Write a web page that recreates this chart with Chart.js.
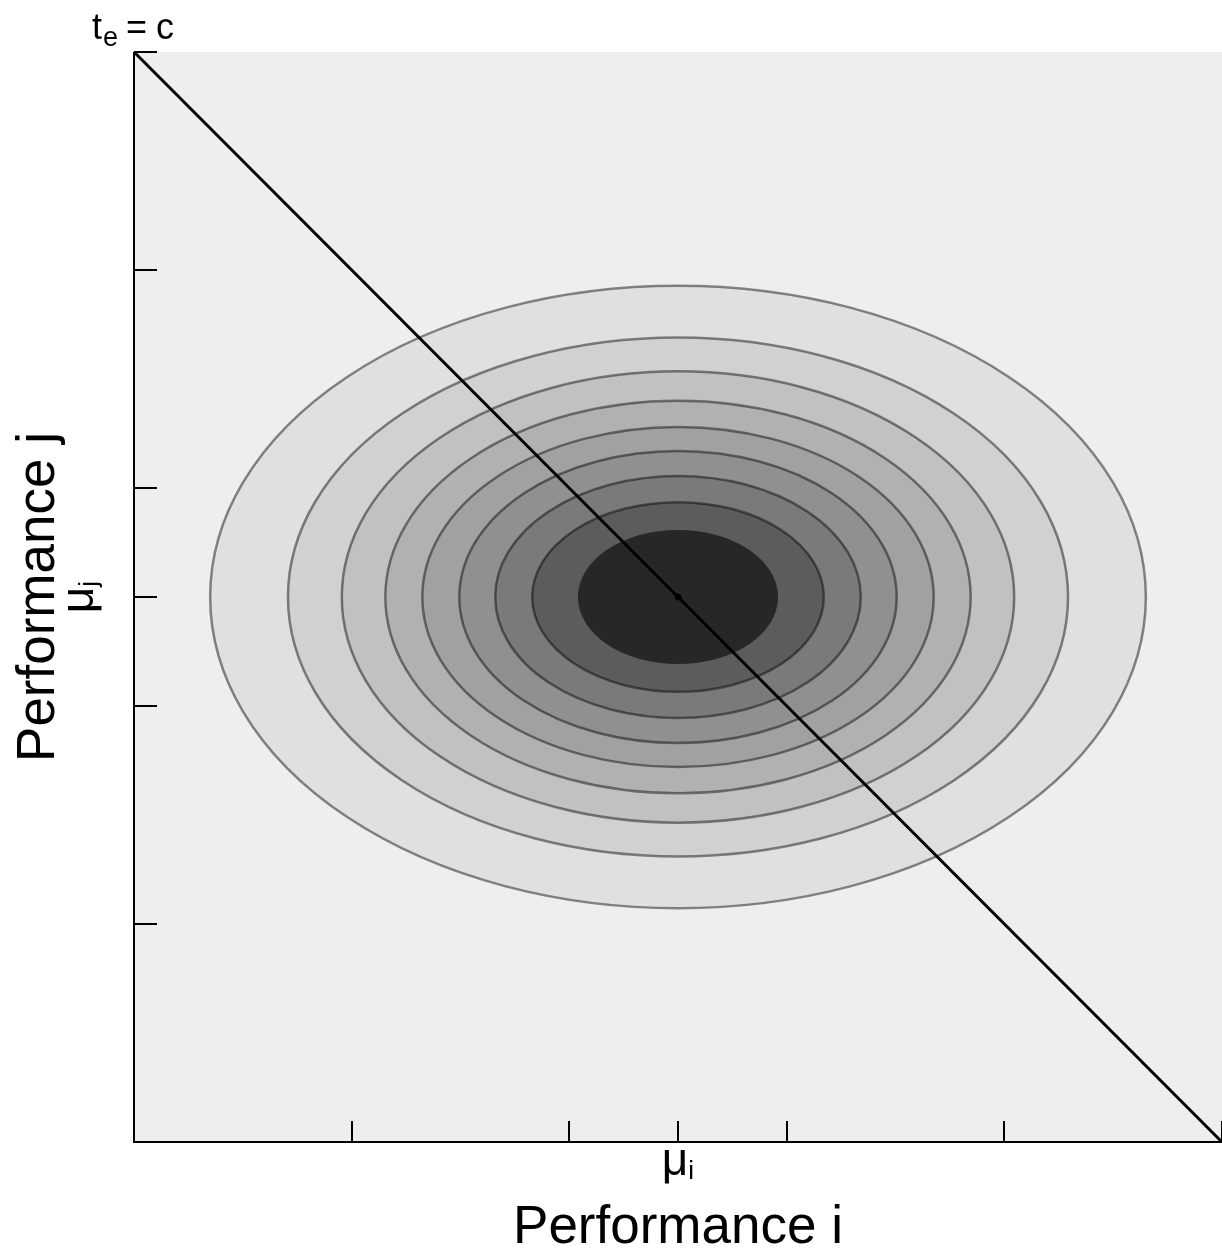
<!DOCTYPE html>
<html>
<head>
<meta charset="utf-8">
<title>Performance i vs Performance j</title>
<script src="https://cdn.jsdelivr.net/npm/chart.js@4/dist/chart.umd.min.js"></script>
<style>
  html, body { margin: 0; padding: 0; background: #ffffff; }
  #wrap { width: 1222px; height: 1253px; }
</style>
</head>
<body>
<div id="wrap"><canvas id="contour-chart" width="1222" height="1253"></canvas></div>
<script>
// axis range and tick positions (data units)
const axisMin = 0;
const axisMax = 10;
const xTicks = [0, 2, 4, 5, 6, 8, 10];
const yTicks = [0, 2, 4, 5, 6, 8, 10];

// mean of the joint distribution
const muI = 5;
const muJ = 5;

// contour ellipses, outermost first: semi-axes in data units and fill grey
const contourRx = [4.30, 3.585, 3.09, 2.69, 2.35, 2.01, 1.68, 1.34, 0.92];
const contourRy = [2.855, 2.38, 2.07, 1.80, 1.56, 1.34, 1.11, 0.87, 0.615];
const contourFill = ['#e0e0e0', '#d1d1d1', '#c1c1c1', '#b1b1b1', '#a1a1a1',
                     '#909090', '#7a7a7a', '#5c5c5c', '#272727'];

// decision boundary t_e = c
const boundaryX = [0, 10];
const boundaryY = [10, 0];

const FONT = '"Liberation Sans", Arial, Helvetica, sans-serif';

const contourPlugin = {
  id: 'contours',
  beforeDatasetsDraw(chart) {
    const ctx = chart.ctx;
    const area = chart.chartArea;
    const xs = chart.scales.x;
    const ys = chart.scales.y;

    ctx.save();
    ctx.fillStyle = '#eeeeee';
    ctx.fillRect(area.left, area.top, area.right - area.left, area.bottom - area.top);

    ctx.beginPath();
    ctx.rect(area.left, area.top, area.right - area.left, area.bottom - area.top);
    ctx.clip();

    const cx = xs.getPixelForValue(muI);
    const cy = ys.getPixelForValue(muJ);
    contourRx.forEach((rx, i) => {
      const px = Math.abs(xs.getPixelForValue(muI + rx) - cx);
      const py = Math.abs(ys.getPixelForValue(muJ + contourRy[i]) - cy);
      ctx.beginPath();
      ctx.ellipse(cx, cy, px, py, 0, 0, Math.PI * 2);
      ctx.fillStyle = contourFill[i];
      ctx.fill();
      if (i < contourRx.length - 1) {
        ctx.lineWidth = 2.5;
        ctx.strokeStyle = 'rgba(0,0,0,0.45)';
        ctx.stroke();
      }
    });
    ctx.restore();
  },
  afterDatasetsDraw(chart) {
    const ctx = chart.ctx;
    const area = chart.chartArea;
    const xs = chart.scales.x;
    const ys = chart.scales.y;

    ctx.save();
    ctx.strokeStyle = '#000000';
    ctx.lineWidth = 2;

    // axis lines
    ctx.beginPath();
    ctx.moveTo(area.left, area.top);
    ctx.lineTo(area.left, area.bottom);
    ctx.lineTo(area.right, area.bottom);
    ctx.stroke();

    // inward ticks
    ctx.beginPath();
    xTicks.forEach((v) => {
      const px = Math.round(xs.getPixelForValue(v));
      ctx.moveTo(px, area.bottom);
      ctx.lineTo(px, area.bottom - 21);
    });
    yTicks.forEach((v) => {
      const py = Math.round(ys.getPixelForValue(v));
      ctx.moveTo(area.left, py);
      ctx.lineTo(area.left + 23, py);
    });
    ctx.stroke();

    ctx.fillStyle = '#000000';
    ctx.textBaseline = 'alphabetic';

    // mu_i under the x axis
    const mx = xs.getPixelForValue(muI);
    ctx.font = '46px ' + FONT;
    const wMu = ctx.measureText('\u03bc').width;
    ctx.font = '26px ' + FONT;
    const wI = ctx.measureText('i').width;
    let start = mx - (wMu + wI) / 2;
    ctx.textAlign = 'left';
    ctx.font = '46px ' + FONT;
    ctx.fillText('\u03bc', start, area.bottom + 33);
    ctx.font = '26px ' + FONT;
    ctx.fillText('i', start + wMu, area.bottom + 37);

    // x title
    ctx.font = '53px ' + FONT;
    ctx.textAlign = 'center';
    ctx.fillText('Performance i', mx, 1243);

    // y side labels, rotated
    const my = ys.getPixelForValue(muJ);
    ctx.save();
    ctx.translate(54, my);
    ctx.rotate(-Math.PI / 2);
    ctx.font = '53px ' + FONT;
    ctx.textAlign = 'center';
    ctx.fillText('Performance j', 0, 0);
    ctx.restore();

    ctx.save();
    ctx.translate(93, my);
    ctx.rotate(-Math.PI / 2);
    ctx.font = '46px ' + FONT;
    const wMuJ = ctx.measureText('\u03bc').width;
    ctx.font = '26px ' + FONT;
    const wJ = ctx.measureText('j').width;
    start = -(wMuJ + wJ) / 2;
    ctx.textAlign = 'left';
    ctx.font = '46px ' + FONT;
    ctx.fillText('\u03bc', start, 0);
    ctx.font = '26px ' + FONT;
    ctx.fillText('j', start + wMuJ, 4);
    ctx.restore();

    // boundary label at the top-left corner
    ctx.textAlign = 'left';
    ctx.font = '36px ' + FONT;
    ctx.fillText('t', 92, 39);
    ctx.font = '27px ' + FONT;
    ctx.fillText('e', 103, 46);
    ctx.font = '36px ' + FONT;
    ctx.fillText('=', 126, 39);
    ctx.fillText('c', 156, 39);

    ctx.restore();
  }
};

const ctx = document.getElementById('contour-chart');
const chart = new Chart(ctx, {
  type: 'scatter',
  data: {
    datasets: [
      {
        label: 'boundary',
        data: boundaryX.map((x, i) => ({ x: x, y: boundaryY[i] })),
        showLine: true,
        borderColor: '#000000',
        borderWidth: 3,
        pointRadius: 0,
        fill: false
      },
      {
        label: 'mean',
        data: [{ x: muI, y: muJ }],
        pointRadius: 3,
        backgroundColor: '#000000',
        borderColor: '#000000'
      }
    ]
  },
  options: {
    responsive: false,
    animation: false,
    layout: { autoPadding: false, padding: { left: 134, top: 52, right: 0, bottom: 111 } },
    plugins: {
      legend: { display: false },
      tooltip: { enabled: false }
    },
    scales: {
      x: { type: 'linear', min: axisMin, max: axisMax, display: false },
      y: { type: 'linear', min: axisMin, max: axisMax, display: false }
    }
  },
  plugins: [contourPlugin]
});
</script>
</body>
</html>
